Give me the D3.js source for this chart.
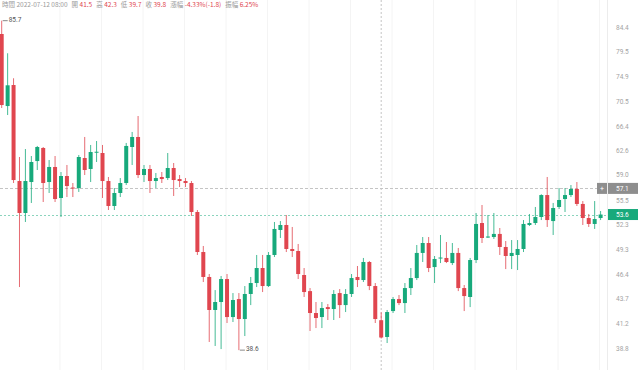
<!DOCTYPE html>
<html>
<head>
<meta charset="utf-8">
<script src="https://cdn.jsdelivr.net/npm/d3@7"></script>
<style>
  body { margin: 0; background: #fff; }
  svg { display: block; }
</style>
</head>
<body>
<div id="chart"></div>
<script>
// candles, oldest first
var opens = [82.98, 69.70, 73.34, 58.13, 53.80, 57.99, 61.01, 62.97, 57.99, 60.14,
  55.79, 58.84, 57.22, 57.15, 61.46, 59.85, 62.30, 62.21, 58.13, 54.72,
  56.47, 57.85, 63.12, 64.67, 58.98, 59.85, 58.13, 58.70, 58.55, 59.99,
  58.41, 58.13, 57.85, 53.93, 48.95, 46.08, 42.54, 43.37, 45.85, 41.82,
  43.68, 41.62, 44.22, 45.41, 47.09, 45.08, 48.60, 51.63, 52.26, 49.31,
  49.07, 46.30, 44.53, 42.23, 41.82, 42.84, 42.64, 44.32, 43.05, 44.22,
  46.08, 45.74, 47.78, 45.08, 41.5, 39.85, 42.43, 43.68, 43.26, 44.86,
  45.96, 48.84, 50.03, 47.20, 48.19, 48.25, 47.66, 48.84, 44.86, 43.90,
  48.01, 52.51, 50.76, 50.76, 51.14, 49.55, 48.48, 48.60, 49.31, 52.26,
  52.51, 53.28, 56.19, 52.76, 54.59, 55.65, 56.19, 57.02, 54.99, 53.15,
  52.39, 53.15];
var highs = [85.7, 79.20, 74.55, 61.61, 62.81, 61.76, 63.28, 63.12, 61.16, 61.76,
  59.41, 60.43, 57.85, 61.91, 64.67, 63.43, 64.04, 63.43, 58.70, 57.15,
  58.55, 63.74, 65.46, 68.04, 60.43, 60.43, 59.27, 59.41, 62.21, 60.72,
  58.98, 58.55, 58.13, 54.19, 49.67, 46.41, 44.64, 46.19, 46.41, 44.32,
  44.32, 45.08, 46.08, 48.60, 48.60, 48.95, 52.64, 52.76, 53.54, 52.01,
  49.91, 47.09, 44.86, 43.37, 43.37, 43.16, 44.64, 44.75, 44.75, 46.41,
  47.32, 48.25, 47.90, 45.41, 42.3, 42.54, 43.90, 44.11, 45.41, 47.09,
  49.79, 50.76, 50.76, 48.48, 51.01, 50.15, 50.03, 49.43, 45.19, 48.25,
  53.80, 54.85, 53.54, 53.80, 51.88, 50.27, 50.39, 50.39, 52.89, 53.67,
  54.59, 56.30, 58.70, 55.12, 57.15, 57.15, 57.57, 57.99, 55.38, 53.67,
  55.38, 54.06];
var lows = [69.37, 68.20, 57.85, 44.97, 52.64, 55.12, 59.70, 55.25, 56.47, 55.25,
  53.28, 55.92, 55.92, 56.61, 58.98, 57.99, 60.87, 55.79, 54.19, 54.19,
  55.92, 57.57, 60.43, 58.55, 57.99, 56.47, 57.15, 57.85, 58.27, 56.06,
  57.29, 57.29, 53.41, 48.60, 45.52, 39.37, 38.99, 38.70, 41.22, 41.32,
  38.6, 39.94, 43.05, 44.97, 44.43, 44.97, 48.36, 50.64, 48.95, 48.36,
  45.85, 43.90, 40.43, 40.72, 40.72, 41.52, 41.52, 41.72, 42.33, 43.90,
  44.97, 45.52, 44.64, 41.22, 39.7, 39.27, 42.23, 43.05, 42.23, 44.11,
  45.74, 47.78, 46.63, 45.41, 47.66, 47.66, 47.43, 44.53, 42.43, 42.84,
  47.66, 50.03, 50.64, 50.52, 48.60, 46.97, 46.97, 46.86, 48.95, 52.13,
  52.26, 52.89, 52.01, 51.01, 54.32, 53.93, 55.92, 54.72, 52.26, 52.01,
  51.76, 52.89];
var closes = [69.87, 73.29, 58.27, 53.80, 58.13, 60.87, 63.12, 57.85, 60.14, 55.65,
  58.84, 57.43, 57.09, 61.61, 59.70, 62.36, 62.40, 58.13, 54.72, 56.47,
  57.85, 63.28, 64.67, 58.98, 59.85, 58.13, 58.55, 58.41, 59.99, 58.27,
  58.13, 57.85, 53.93, 48.95, 46.08, 42.54, 43.37, 45.85, 41.82, 43.58,
  41.62, 44.22, 45.41, 47.09, 45.08, 48.60, 51.76, 52.26, 49.31, 49.07,
  46.41, 44.43, 42.23, 41.72, 42.74, 42.64, 44.22, 43.05, 44.22, 45.96,
  45.74, 47.78, 45.08, 41.62, 39.8, 42.33, 43.68, 43.26, 44.86, 45.96,
  48.84, 50.03, 47.09, 48.13, 48.30, 47.78, 48.84, 44.86, 44.00, 48.01,
  52.39, 50.64, 50.82, 51.14, 49.55, 48.48, 48.84, 49.31, 52.39, 52.51,
  53.28, 56.19, 52.89, 54.45, 55.52, 56.19, 57.02, 54.99, 53.15, 52.39,
  53.02, 53.6];

// right axis labels
var tickLabels = ["84.4", "79.5", "74.9", "70.5", "66.4", "62.6", "59.0",
  "55.5", "52.3", "49.3", "46.4", "43.7", "41.2", "38.8"];

// hovered candle info line
var infoLabels = ["時間", "開", "高", "低", "收", "漲幅", "振幅"];
var infoValues = ["2022-07-12 08:00", "41.5", "42.3", "39.7", "39.8", "-4.33%(-1.8)", "6.25%"];

var hoverIndex = 64;     // crosshair candle
var crossPrice = 57.1;   // crosshair price
var lastPrice = 53.6;
var maxMark = 85.7, minMark = 38.6;

var W = 640, H = 370;
var red = "#e0464f", green = "#17a97b", gray = "#a3a3a3";

var data = opens.map(function (o, i) {
    return { i: i, o: o, h: highs[i], l: lows[i], c: closes[i] };
});

var svg = d3.select("#chart").append("svg")
    .attr("width", W).attr("height", H)
    .style("font-family", "Roboto, 'Noto Sans', sans-serif");

var x = d3.scaleLinear().domain([0, data.length - 1]).range([1.7, 600.6]);
var y = d3.scaleLog().domain([38.8, 84.4]).range([348, 27]);

//faint vertical grid every 7 candles
var gridIdx = d3.range(9.83, data.length, 7);
svg.append("g").selectAll("line")
    .data(gridIdx).enter().append("line")
    .attr("x1", function (d) { return x(d); })
    .attr("x2", function (d) { return x(d); })
    .attr("y1", 0).attr("y2", H)
    .attr("stroke", "#f4f4f4").attr("stroke-width", 1);

// axis separator
svg.append("line")
    .attr("x1", 607.5).attr("x2", 607.5).attr("y1", 0).attr("y2", H)
    .attr("stroke", "#ececec");

// right axis
var axis = d3.axisRight(y)
    .tickValues(tickLabels.map(Number))
    .tickFormat(function (d, i) { return tickLabels[i]; })
    .tickSize(0).tickPadding(0);
var ga = svg.append("g")
    .attr("transform", "translate(616,0)")
    .call(axis);
ga.select(".domain").remove();
ga.selectAll("text")
    .attr("fill", gray)
    .style("font-size", "6.5px")
    .style("font-family", "Roboto, sans-serif");

// crosshair and last price lines
svg.append("line")
    .attr("x1", x(hoverIndex)).attr("x2", x(hoverIndex))
    .attr("y1", 0).attr("y2", H)
    .attr("stroke", "#c4c4c4").attr("stroke-dasharray", "2,2");
svg.append("line")
    .attr("x1", 0).attr("x2", 597)
    .attr("y1", Math.round(y(crossPrice)) + 0.5).attr("y2", Math.round(y(crossPrice)) + 0.5)
    .attr("stroke", "#c4c4c4").attr("stroke-dasharray", "3,2");
svg.append("line")
    .attr("x1", 0).attr("x2", 607)
    .attr("y1", Math.round(y(lastPrice)) + 0.5).attr("y2", Math.round(y(lastPrice)) + 0.5)
    .attr("stroke", green).attr("stroke-opacity", 0.5).attr("stroke-dasharray", "2,2");

// candles
var bw = 4;
var g = svg.append("g");
var candle = g.selectAll("g.candle").data(data).enter().append("g")
    .attr("class", "candle");
candle.append("line")
    .attr("x1", function (d) { return x(d.i); })
    .attr("x2", function (d) { return x(d.i); })
    .attr("y1", function (d) { return y(d.h); })
    .attr("y2", function (d) { return y(d.l); })
    .attr("stroke", function (d) { return d.c >= d.o ? green : red; })
    .attr("stroke-width", 0.8);
candle.append("rect")
    .attr("x", function (d) { return x(d.i) - bw / 2; })
    .attr("width", bw)
    .attr("y", function (d) { return y(Math.max(d.o, d.c)); })
    .attr("height", function (d) { return Math.max(1, Math.abs(y(d.o) - y(d.c))); })
    .attr("fill", function (d) { return d.c >= d.o ? green : red; });

// max / min markers
function marker(idx, price, dy) {
    var px = x(idx) + 1, py = y(price);
    svg.append("line")
        .attr("x1", px).attr("x2", px + 5).attr("y1", py).attr("y2", py)
        .attr("stroke", "#555").attr("stroke-width", 0.7);
    svg.append("text")
        .attr("x", px + 6).attr("y", py + dy)
        .attr("dominant-baseline", "middle")
        .attr("fill", "#555").style("font-size", "6.5px")
        .text(price.toFixed(1));
}
marker(0, maxMark, 0);
marker(40, minMark, -1);

// price tags on axis
var crossY = y(crossPrice), lastY = y(lastPrice);
svg.append("rect").attr("x", 597).attr("y", crossY - 5.5).attr("width", 10).attr("height", 11)
    .attr("fill", "#8e8e8e");
svg.append("text").attr("x", 602).attr("y", crossY + 0.5)
    .attr("text-anchor", "middle").attr("dominant-baseline", "middle")
    .attr("fill", "#fff").style("font-size", "7px").text("+");
svg.append("rect").attr("x", 608).attr("y", crossY - 5.5).attr("width", 30).attr("height", 11)
    .attr("fill", "#8e8e8e");
svg.append("text").attr("x", 616).attr("y", crossY + 0.5)
    .attr("dominant-baseline", "middle")
    .attr("fill", "#fff").style("font-size", "6.5px").text(crossPrice.toFixed(1));
svg.append("rect").attr("x", 608).attr("y", lastY - 5.5).attr("width", 30).attr("height", 11)
    .attr("fill", green);
svg.append("text").attr("x", 616).attr("y", lastY + 0.5)
    .attr("dominant-baseline", "middle")
    .attr("fill", "#fff").style("font-size", "6.5px").text(lastPrice.toFixed(1));

// info line at top
var info = svg.append("text")
    .attr("x", 2).attr("y", 7)
    .style("font-size", "6.5px")
    .style("font-family", "'Noto Sans CJK TC', 'Noto Sans', sans-serif");
infoLabels.forEach(function (lab, k) {
    info.append("tspan").attr("fill", "#9a9a9a")
        .attr("dx", k === 0 ? 0 : 4).text(lab);
    info.append("tspan").attr("fill", k === 0 ? "#9a9a9a" : red)
        .attr("dx", 1.5)
        .text(infoValues[k]);
});
</script>
</body>
</html>
